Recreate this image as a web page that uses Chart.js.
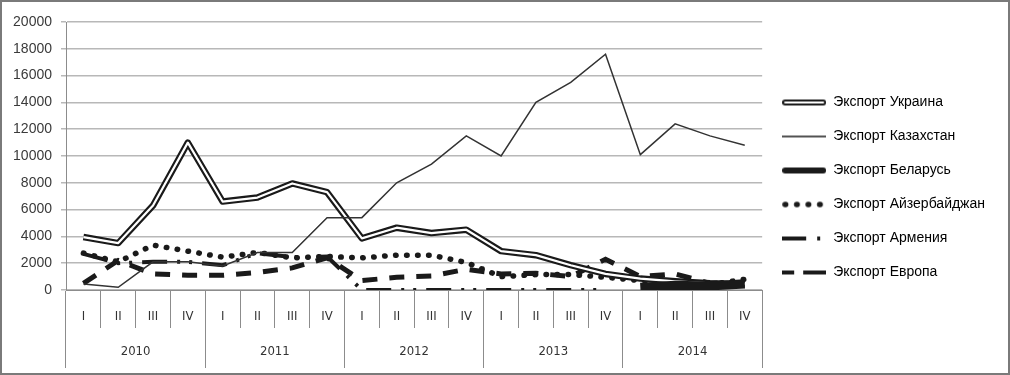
<!DOCTYPE html>
<html>
<head>
<meta charset="utf-8">
<script src="https://cdn.jsdelivr.net/npm/chart.js@4.4.1/dist/chart.umd.min.js"></script>
<style>
  html, body { margin: 0; padding: 0; background: #fff; }
  #frame { width: 1010px; height: 375px; box-sizing: border-box; border: 2px solid #7a7a7a; }
  #chart { display: block; width: 1006px; height: 371px; }
</style>
</head>
<body>
<div id="frame"><canvas id="chart" width="1006" height="371"></canvas></div>
<script>
// quarters x years
const quarters = ['I', 'II', 'III', 'IV', 'I', 'II', 'III', 'IV', 'I', 'II', 'III', 'IV', 'I', 'II', 'III', 'IV', 'I', 'II', 'III', 'IV'];
const years = ['2010', '2011', '2012', '2013', '2014'];

const ukraine    = [3950, 3500, 6300, 11000, 6600, 6900, 7950, 7300, 3850, 4650, 4250, 4500, 2900, 2600, 1850, 1200, 850, 650, 500, 450];
const kazakhstan = [450, 200, 2100, 2100, 1800, 2800, 2800, 5400, 5400, 8000, 9400, 11500, 10000, 14000, 15500, 17600, 10100, 12400, 11500, 10800];
const belarus    = [null, null, null, null, null, null, null, null, null, null, null, null, null, null, null, null, 200, 350, 300, 450];
const azerbaijan = [2750, 2100, 3350, 2900, 2450, 2800, 2400, 2500, 2400, 2600, 2600, 2050, 1000, 1150, 1150, 950, 700, 500, 400, 800];
const armenia    = [2700, 2000, 2100, 2100, 1850, 2750, 2450, 2500, 0, 0, 0, 0, 0, 0, 0, 0, null, null, null, null];
const europe     = [500, 2200, 1200, 1100, 1100, 1300, 1650, 2400, 700, 950, 1050, 1550, 1200, 1250, 1000, 2300, 1000, 1200, 500, 600];

const yTicks = [0, 2000, 4000, 6000, 8000, 10000, 12000, 14000, 16000, 18000, 20000];

const INK = '#1a1a1a';
const narrow = "'Liberation Sans Narrow', 'DejaVu Sans Condensed', sans-serif";

Chart.defaults.font.family = "'Liberation Sans', Arial, sans-serif";
Chart.defaults.color = '#333';

// small canvases used as legend samples
function sample(draw) {
    const c = document.createElement('canvas');
    c.width = 44;
    c.height = 10;
    const g = c.getContext('2d');
    g.strokeStyle = INK;
    draw(g);
    return c;
}
function stroke(g, x0, x1) {
    g.beginPath();
    g.moveTo(x0, 5);
    g.lineTo(x1, 5);
    g.stroke();
}

const legendSamples = [
    sample(g => { g.lineCap = 'round'; g.lineWidth = 6; stroke(g, 3, 41); g.strokeStyle = '#fff'; g.lineWidth = 2; stroke(g, 3, 41); }),
    sample(g => { g.lineWidth = 1.5; stroke(g, 0, 44); }),
    sample(g => { g.lineCap = 'round'; g.lineWidth = 6; stroke(g, 3, 41); }),
    sample(g => { g.lineCap = 'round'; g.lineWidth = 5.5; g.setLineDash([0.5, 11]); stroke(g, 3, 44); }),
    sample(g => { g.lineWidth = 4; g.setLineDash([24, 11, 3, 20]); stroke(g, 0, 44); }),
    sample(g => { g.lineWidth = 4; g.setLineDash([12, 9, 24, 4]); stroke(g, 0, 44); })
];

function series(label, data, opts) {
    return Object.assign({
        label: label,
        data: data,
        borderColor: INK,
        backgroundColor: INK,
        borderWidth: 1.5,
        pointRadius: 0,
        tension: 0,
        fill: false
    }, opts);
}

const datasets = [
    series('Экспорт Украина', ukraine, { borderWidth: 6.5, borderJoinStyle: 'round', order: 4 }),
    series('', ukraine, { borderColor: '#fff', borderWidth: 2.2, borderJoinStyle: 'round', order: 3, inner: true }),
    series('Экспорт Казахстан', kazakhstan, { borderColor: '#333', borderWidth: 1.5, order: 2 }),
    series('Экспорт Беларусь', belarus, { borderWidth: 9, order: 1 }),
    series('Экспорт Айзербайджан', azerbaijan, { borderWidth: 5.5, borderCapStyle: 'round', borderDash: [0.5, 10.5], order: 5 }),
    series('Экспорт Армения', armenia, { borderWidth: 4, borderDash: [25, 10, 3, 9, 3, 10], order: 6 }),
    series('Экспорт Европа', europe, { borderWidth: 5, borderDash: [15, 12], order: 7 })
];

const ctx = document.getElementById('chart').getContext('2d');

new Chart(ctx, {
    type: 'line',
    data: {
        labels: quarters,
        datasets: datasets
    },
    options: {
        responsive: false,
        animation: false,
        events: [],
        layout: { padding: { left: 0, top: 0, bottom: 0, right: 13 } },
        plugins: {
            tooltip: { enabled: false },
            title: {
                display: true,
                text: '',
                font: { size: 10 },
                padding: { top: 4, bottom: 4 }
            },
            legend: {
                position: 'right',
                align: 'center',
                labels: {
                    usePointStyle: true,
                    pointStyleWidth: 44,
                    boxWidth: 44,
                    boxHeight: 14,
                    padding: 20,
                    color: '#222',
                    font: { size: 14 },
                    generateLabels: function (chart) {
                        const items = [];
                        chart.data.datasets.forEach((ds, i) => {
                            if (ds.inner) return;
                            items.push({
                                text: ds.label,
                                pointStyle: legendSamples[items.length],
                                fillStyle: 'rgba(0,0,0,0)',
                                strokeStyle: 'rgba(0,0,0,0)',
                                lineWidth: 0,
                                hidden: false,
                                datasetIndex: i
                            });
                        });
                        return items;
                    }
                }
            }
        },
        scales: {
            x: {
                type: 'category',
                offset: true,
                weight: 0,
                grid: { offset: true, drawOnChartArea: false, tickLength: 38, color: '#8c8c8c' },
                border: { display: true, color: '#8c8c8c' },
                ticks: { padding: -19, autoSkip: false, maxRotation: 0, color: '#333', font: { family: narrow, size: 13 } },
                afterFit: function (scale) { scale.height = 38; }
            },
            x2: {
                type: 'category',
                labels: years,
                position: 'bottom',
                offset: true,
                weight: 1,
                grid: { offset: true, drawOnChartArea: false, tickLength: 40, color: '#8c8c8c' },
                border: { display: false },
                ticks: { padding: -24, autoSkip: false, maxRotation: 0, color: '#333', font: { family: narrow, size: 13 } },
                afterFit: function (scale) { scale.height = 45; }
            },
            y: {
                min: 0,
                max: 20000,
                afterBuildTicks: function (scale) {
                    scale.ticks = yTicks.map(v => ({ value: v }));
                },
                grid: { color: '#b8b8b8', lineWidth: 1.5, tickLength: 5 },
                border: { display: true, color: '#8c8c8c' },
                ticks: {
                    padding: 9,
                    color: '#3a3a3a',
                    font: { size: 14 },
                    callback: v => String(v)
                },
                afterFit: function (scale) { scale.width = 64; }
            }
        }
    }
});
</script>
</body>
</html>
